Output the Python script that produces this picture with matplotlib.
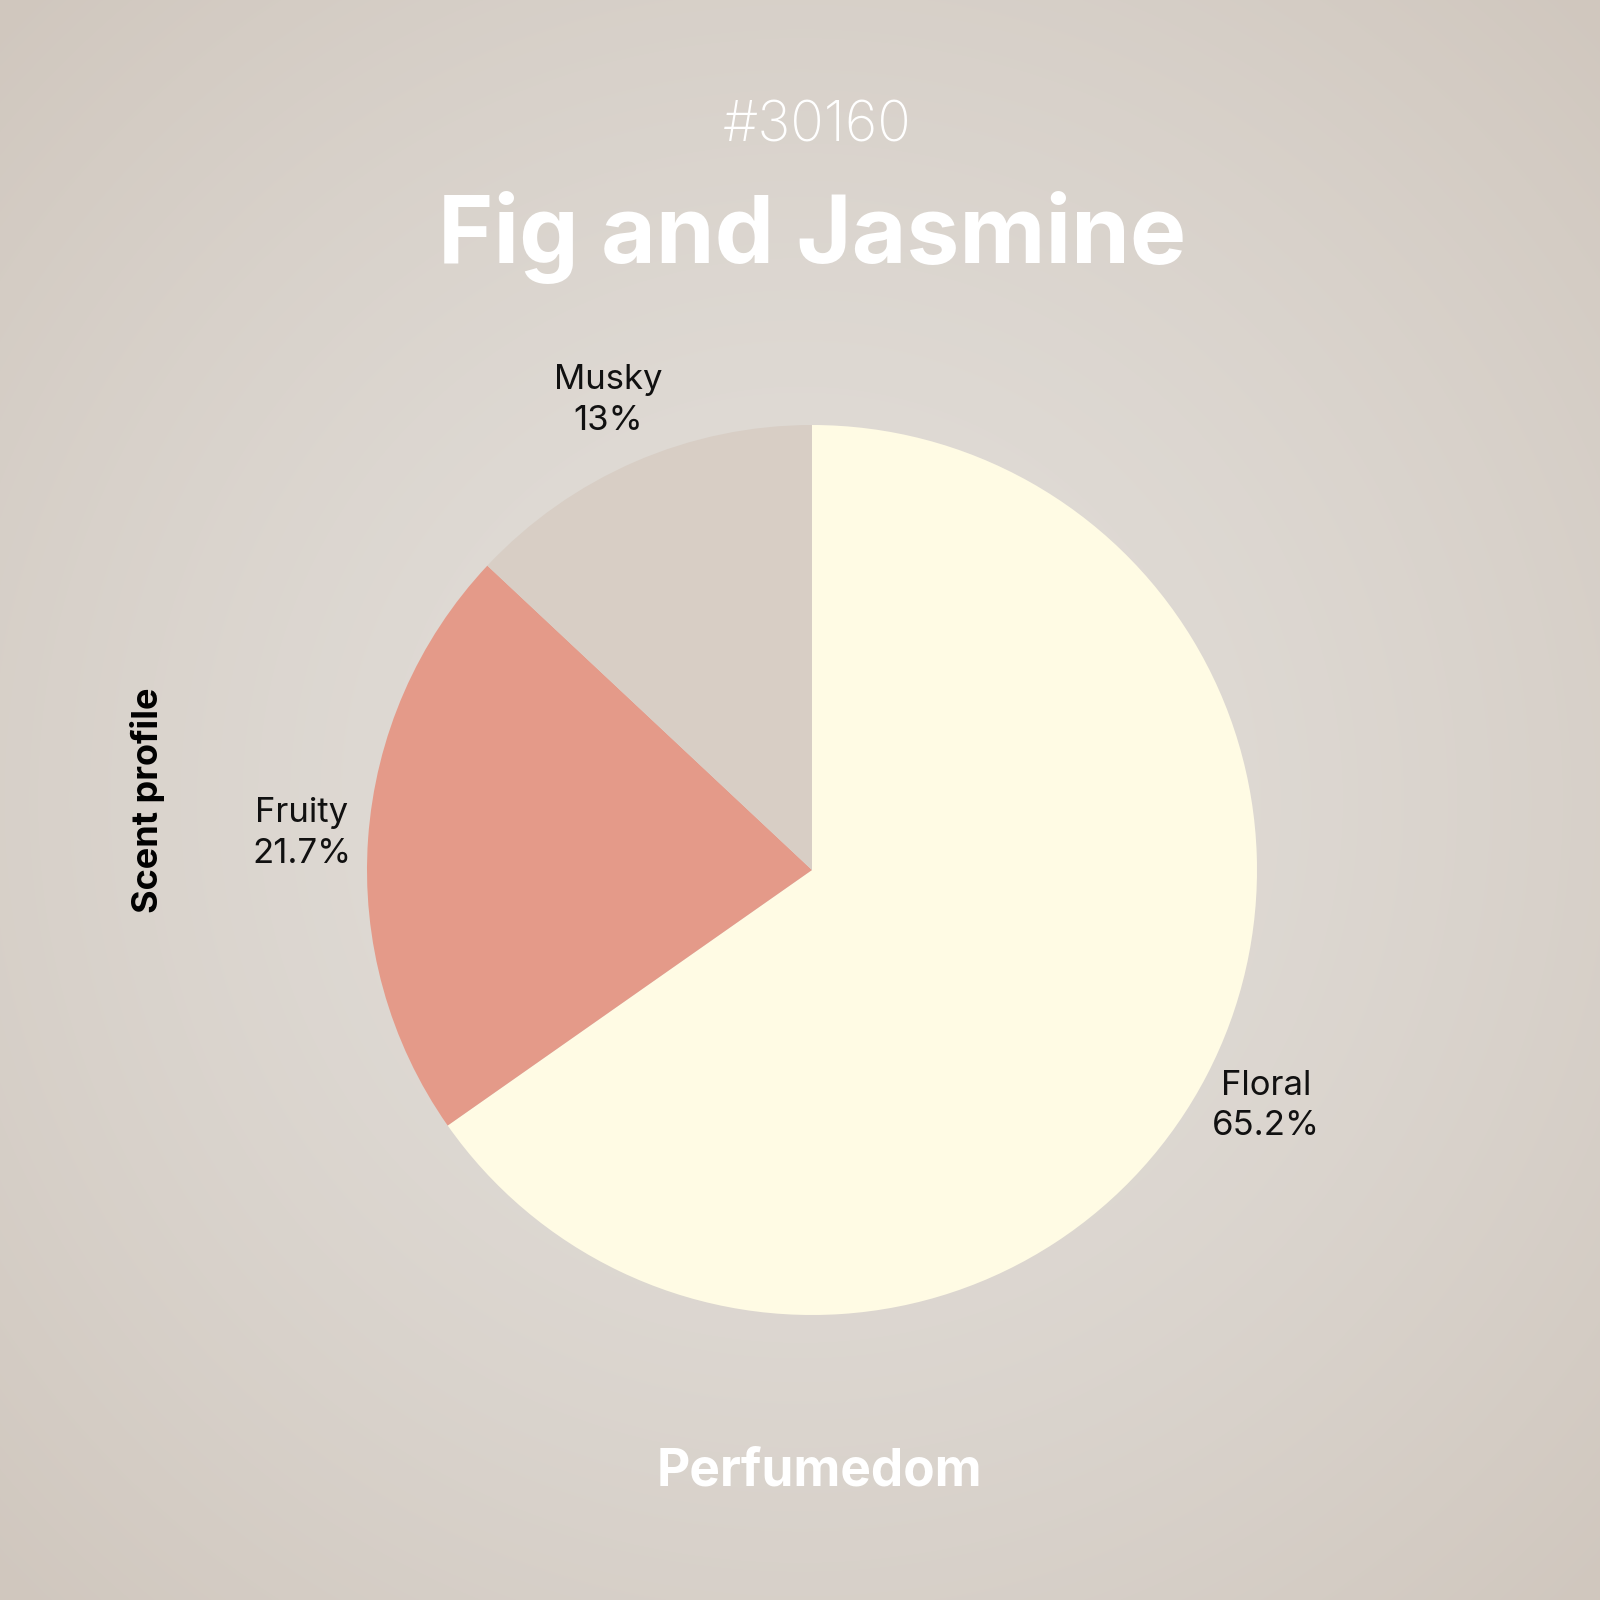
import matplotlib
matplotlib.use("Agg")
import matplotlib.pyplot as plt
import numpy as np

# Datos del grafico
categorias = ["Floral", "Fruity", "Musky"]
porcentajes = [65.2, 21.7, 13.0]
colores = ["#FFFBE4", "#E49A89", "#D8CEC5"]
etiquetas_pct = ["65.2%", "21.7%", "13%"]

titulo = "Fig and Jasmine"
codigo = "#30160"
marca = "Perfumedom"
eje_y = "Scent profile"

plt.rcParams['font.family'] = ['Inter', 'DejaVu Sans']

W = H = 1600
fig = plt.figure(figsize=(16, 16), dpi=100)

# Fondo con degradado radial
fondo = fig.add_axes([0, 0, 1, 1])
yy, xx = np.mgrid[0:H, 0:W]
d = np.sqrt(((xx - 800) / 800.0) ** 2 + ((yy - 800) / 800.0) ** 2)
d = np.clip(d / 1.41, 0, 1)
centro = np.array([0xE2, 0xDE, 0xD9]) / 255.0
borde = np.array([0xD0, 0xC7, 0xBE]) / 255.0
img = centro[None, None, :] * (1 - d[..., None] ** 1.5) + borde[None, None, :] * d[..., None] ** 1.5
fondo.imshow(img, extent=[0, 1, 0, 1], aspect="auto", zorder=0)
fondo.axis("off")

# Pastel
cx, cy, r = 812, 870, 445
ax = fig.add_axes([(cx - r) / W, (H - cy - r) / H, 2 * r / W, 2 * r / H])
ax.set_facecolor("none")
wedges, _ = ax.pie(porcentajes, colors=colores, startangle=90, counterclock=False,
                   radius=1, wedgeprops=dict(linewidth=0))
ax.set_xlim(-1, 1)
ax.set_ylim(-1, 1)
ax.set_aspect("equal")
ax.axis("off")

for w, nombre, pct in zip(wedges, categorias, etiquetas_pct):
    ang = np.deg2rad((w.theta1 + w.theta2) / 2)
    ax.text(1.15 * np.cos(ang), 1.15 * np.sin(ang), f"{nombre}\n{pct}",
            ha="center", va="center", fontsize=25, color="#111111",
            linespacing=1.35, clip_on=False)

# Textos
fig.text(817 / W, 1 - 141 / H, codigo, ha="center", va="baseline",
         fontsize=40, color="white", fontweight="light")
fig.text(812 / W, 1 - 263 / H, titulo, ha="center", va="baseline",
         fontsize=68, color="white", fontweight="bold")
fig.text(819 / W, 1 - 1485 / H, marca, ha="center", va="baseline",
         fontsize=37, color="white", fontweight="bold")
fig.text(158 / W, 1 - 800 / H, eje_y, ha="center", va="baseline",
         rotation=90, rotation_mode="anchor", fontsize=26,
         color="black", fontweight="bold")

fig.savefig("out.png", dpi=100)
